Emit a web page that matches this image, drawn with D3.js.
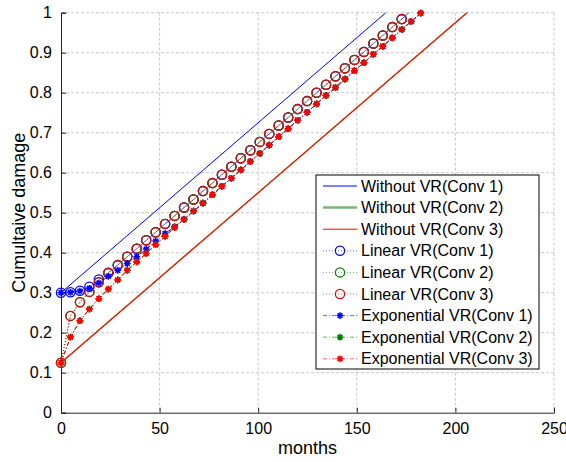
<!DOCTYPE html>
<html>
<head>
<meta charset="utf-8">
<script src="https://cdn.jsdelivr.net/npm/d3@7"></script>
<style>
  body { margin: 0; background: #fff; }
  svg text { font-family: "Liberation Sans", Arial, sans-serif; fill: #000; }
</style>
</head>
<body>
<svg width="566" height="462"></svg>
<script>
// months at which the VR curves were sampled
const months = [0, 4.8, 9.6, 14.4, 19.2, 24, 28.8, 33.6, 38.4, 43.2, 48, 52.8, 57.6, 62.4,
  67.2, 72, 76.8, 81.6, 86.4, 91.2, 96, 100.8, 105.6, 110.4, 115.2, 120, 124.8, 129.6,
  134.4, 139.2, 144, 148.8, 153.6, 158.4, 163.2, 168, 172.8, 177.6, 182.4];

// Without VR: straight lines, endpoints
const noVrMonths = [0, 210];
const noVrConv1 = [0.300, 1.1925];
const noVrConv2 = [0.125, 1.0175];
const noVrConv3 = [0.125, 1.0175];

// Linear VR
const linConv1 = [0.300, 0.301, 0.305, 0.315, 0.333, 0.350, 0.369, 0.390, 0.410, 0.431, 0.451,
  0.472, 0.492, 0.513, 0.533, 0.554, 0.574, 0.595, 0.615, 0.636, 0.656, 0.677, 0.697, 0.718,
  0.738, 0.759, 0.779, 0.800, 0.820, 0.841, 0.861, 0.882, 0.902, 0.923, 0.943, 0.964, 0.984, 1.005];
const linConv2 = [0.125, 0.242, 0.276, 0.302, 0.326, 0.349, 0.369, 0.390, 0.410, 0.431, 0.451,
  0.472, 0.492, 0.513, 0.533, 0.554, 0.574, 0.595, 0.615, 0.636, 0.656, 0.677, 0.697, 0.718,
  0.738, 0.759, 0.779, 0.800, 0.820, 0.841, 0.861, 0.882, 0.902, 0.923, 0.943, 0.964, 0.984, 1.005];
const linConv3 = [0.125, 0.242, 0.276, 0.302, 0.326, 0.349, 0.369, 0.390, 0.410, 0.431, 0.451,
  0.472, 0.492, 0.513, 0.533, 0.554, 0.574, 0.595, 0.615, 0.636, 0.656, 0.677, 0.697, 0.718,
  0.738, 0.759, 0.779, 0.800, 0.820, 0.841, 0.861, 0.882, 0.902, 0.923, 0.943, 0.964, 0.984, 1.005];

// Exponential VR
const expConv1 = [0.300, 0.301, 0.304, 0.311, 0.324, 0.341, 0.356, 0.373, 0.390, 0.409, 0.429,
  0.448, 0.465, 0.484, 0.504, 0.524, 0.545, 0.566, 0.586, 0.607, 0.628, 0.648, 0.669, 0.690,
  0.710, 0.731, 0.751, 0.772, 0.793, 0.813, 0.834, 0.855, 0.875, 0.896, 0.916, 0.937, 0.958, 0.978, 0.999];
const expConv2 = [0.125, 0.189, 0.230, 0.259, 0.285, 0.309, 0.332, 0.356, 0.377, 0.398, 0.420,
  0.441, 0.463, 0.483, 0.504, 0.524, 0.545, 0.566, 0.586, 0.607, 0.628, 0.648, 0.669, 0.690,
  0.710, 0.731, 0.751, 0.772, 0.793, 0.813, 0.834, 0.855, 0.875, 0.896, 0.916, 0.937, 0.958, 0.978, 0.999];
const expConv3 = [0.125, 0.189, 0.230, 0.259, 0.285, 0.309, 0.332, 0.356, 0.377, 0.398, 0.420,
  0.441, 0.463, 0.483, 0.504, 0.524, 0.545, 0.566, 0.586, 0.607, 0.628, 0.648, 0.669, 0.690,
  0.710, 0.731, 0.751, 0.772, 0.793, 0.813, 0.834, 0.855, 0.875, 0.896, 0.916, 0.937, 0.958, 0.978, 0.999];

const xTicks = [0, 50, 100, 150, 200, 250];
const yTicks = [0, 0.1, 0.2, 0.3, 0.4, 0.5, 0.6, 0.7, 0.8, 0.9, 1];

const blue = "#0000ff", green = "#008000", red = "#ff0000";

// drawing order follows the legend
const series = [
  { name: "Without VR(Conv 1)", x: noVrMonths, y: noVrConv1, color: blue, dash: null, marker: null, w: 1, lw: 1, lo: 1 },
  { name: "Without VR(Conv 2)", x: noVrMonths, y: noVrConv2, color: green, dash: null, marker: null, w: 1, lw: 2.5, lo: 0.55 },
  { name: "Without VR(Conv 3)", x: noVrMonths, y: noVrConv3, color: "#e02000", dash: null, marker: null, w: 1.4, lw: 1, lo: 1 },
  { name: "Linear VR(Conv 1)", x: months, y: linConv1, color: blue, dash: "1,2", marker: "o", w: 1, lw: 1, lo: 0.6 },
  { name: "Linear VR(Conv 2)", x: months, y: linConv2, color: green, dash: "1,2", marker: "o", w: 1, lw: 1, lo: 0.6 },
  { name: "Linear VR(Conv 3)", x: months, y: linConv3, color: "#d01010", dash: "1,2", marker: "o", w: 1, lw: 1, lo: 0.6 },
  { name: "Exponential VR(Conv 1)", x: months, y: expConv1, color: blue, dash: "4,2,1,2", marker: "*", w: 1, lw: 1, lo: 0.6 },
  { name: "Exponential VR(Conv 2)", x: months, y: expConv2, color: green, dash: "4,2,1,2", marker: "*", w: 1, lw: 1, lo: 0.6 },
  { name: "Exponential VR(Conv 3)", x: months, y: expConv3, color: red, dash: "4,2,1,2", marker: "*", w: 1, lw: 1, lo: 0.6 }
];

const svg = d3.select("svg");
const pLeft = 61, pRight = 554, pTop = 12.7, pBottom = 412.7;

const x = d3.scaleLinear().domain([0, 250]).range([pLeft, pRight]);
const y = d3.scaleLinear().domain([0, 1]).range([pBottom, pTop]);

// Grid lines
const grid = svg.append("g").attr("stroke", "#c8c8c8").attr("stroke-dasharray", "3,2").attr("stroke-width", 1);
grid.selectAll(".gx").data(xTicks.slice(1)).enter().append("line")
  .attr("x1", d => x(d)).attr("x2", d => x(d)).attr("y1", pTop).attr("y2", pBottom);
grid.selectAll(".gy").data(yTicks.slice(1)).enter().append("line")
  .attr("x1", pLeft).attr("x2", pRight).attr("y1", d => y(d)).attr("y2", d => y(d));

// Axes (ticks pointing inward)
const xAxis = svg.append("g").attr("transform", `translate(0,${pBottom})`)
  .call(d3.axisBottom(x).tickValues(xTicks).tickSize(-5).tickPadding(10).tickFormat(d3.format("d")));
const yAxis = svg.append("g").attr("transform", `translate(${pLeft},0)`)
  .call(d3.axisLeft(y).tickValues(yTicks).tickSize(-5).tickPadding(9).tickFormat(d => d3.format("~g")(d)));
[xAxis, yAxis].forEach(a => {
  a.select(".domain").attr("stroke", "#262626");
  a.selectAll(".tick line").attr("stroke", "#262626");
  a.selectAll("text").attr("font-size", 16).attr("font-family", "Liberation Sans, Arial, sans-serif").attr("fill", "#000");
});

svg.append("clipPath").attr("id", "plotClip")
  .append("rect").attr("x", pLeft).attr("y", pTop).attr("width", pRight - pLeft).attr("height", pBottom - pTop);

const line = d3.line().x(d => x(d[0])).y(d => y(d[1]));

function drawMarker(g, type, cx, cy, color) {
  if (type === "o") {
    g.append("circle").attr("cx", cx).attr("cy", cy).attr("r", 4.6)
      .attr("fill", "none").attr("stroke", color).attr("stroke-width", 1.3);
  } else if (type === "*") {
    const s = 3.4, t = 2.4;
    g.append("path")
      .attr("d", `M${cx - s},${cy}L${cx + s},${cy}M${cx},${cy - s}L${cx},${cy + s}` +
        `M${cx - t},${cy - t}L${cx + t},${cy + t}M${cx - t},${cy + t}L${cx + t},${cy - t}`)
      .attr("stroke", color).attr("stroke-width", 1.5).attr("fill", "none");
  }
}

const plot = svg.append("g");
series.forEach(s => {
  const pts = s.x.map((m, i) => [m, s.y[i]]);
  plot.append("path").datum(pts)
    .attr("clip-path", "url(#plotClip)")
    .attr("fill", "none")
    .attr("stroke", s.color)
    .attr("stroke-width", s.w)
    .attr("stroke-dasharray", s.dash)
    .attr("d", line);
  if (s.marker) {
    const mg = plot.append("g");
    pts.filter(p => p[1] <= 1.0001).forEach(p => drawMarker(mg, s.marker, x(p[0]), y(p[1]), s.color));
  }
});

// Axis labels
svg.append("text").attr("x", (pLeft + pRight) / 2).attr("y", 454)
  .attr("text-anchor", "middle").attr("font-size", 18).text("months");
svg.append("text").attr("transform", `translate(25,${(pTop + pBottom) / 2}) rotate(-90)`)
  .attr("text-anchor", "middle").attr("font-size", 18).text("Cumultaive damage");

// Legend
const lg = svg.append("g");
lg.append("rect").attr("x", 316).attr("y", 175).attr("width", 223).attr("height", 194)
  .attr("fill", "#fff").attr("stroke", "#000").attr("stroke-width", 1);
series.forEach((s, i) => {
  const cy = 186 + i * 21.6;
  lg.append("line").attr("x1", 323).attr("x2", 357).attr("y1", cy).attr("y2", cy)
    .attr("stroke", s.name.endsWith("3)") && !s.dash ? red : s.color)
    .attr("stroke-width", s.lw)
    .attr("stroke-dasharray", s.dash)
    .attr("stroke-opacity", s.lo);
  if (s.marker) drawMarker(lg, s.marker, 340, cy, s.color);
  lg.append("text").attr("x", 361).attr("y", cy + 5.5).attr("font-size", 16).text(s.name);
});
</script>
</body>
</html>
